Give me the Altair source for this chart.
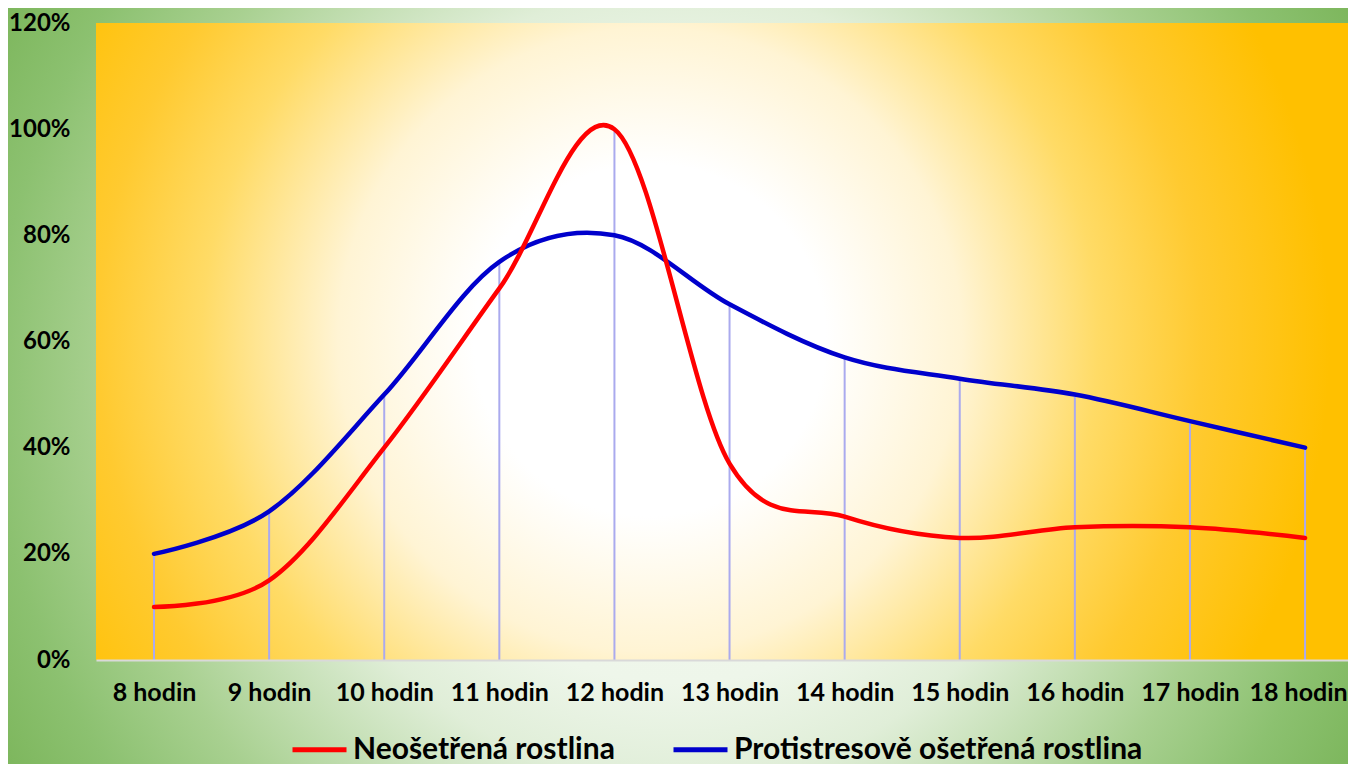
import altair as alt
import pandas as pd

categories = ["8 hodin", "9 hodin", "10 hodin", "11 hodin", "12 hodin", "13 hodin",
              "14 hodin", "15 hodin", "16 hodin", "17 hodin", "18 hodin"]
red_name = "Neošetřená rostlina"
blue_name = "Protistresově ošetřená rostlina"
red_values = [0.10, 0.15, 0.40, 0.70, 1.00, 0.37, 0.27, 0.23, 0.25, 0.25, 0.23]
blue_values = [0.20, 0.28, 0.50, 0.75, 0.80, 0.67, 0.57, 0.53, 0.50, 0.45, 0.40]
y_ticks = [0, 0.2, 0.4, 0.6, 0.8, 1.0, 1.2]

W, H = 1252, 637

rows = []
for i, c in enumerate(categories):
    rows.append({"i": i, "cat": c, "series": red_name, "value": red_values[i]})
    rows.append({"i": i, "cat": c, "series": blue_name, "value": blue_values[i]})
df = pd.DataFrame(rows)

x_scale = alt.Scale(domain=[-0.504, 10.373], nice=False, zero=False)
y_scale = alt.Scale(domain=[0, 1.2], nice=False)
color_scale = alt.Scale(domain=[red_name, blue_name], range=["#ff0000", "#0000cc"])

last = len(categories) - 1
label_expr = "[" + ",".join("'" + c + "'" for c in categories) + "][datum.value]"
x_axis = alt.Axis(values=list(range(len(categories))), labelExpr=label_expr, title=None,
                  grid=False, ticks=False, domain=True, domainColor="#d9d9d9", domainWidth=2,
                  labelPadding=20, labelFontSize=25, labelFontWeight="bold", labelColor="black",
                  labelOffset={"expr": f"datum.value == {last} ? -7 : 0"},
                  labelFlush=False, labelOverlap=False, zindex=1)
y_axis = alt.Axis(values=y_ticks, format=".0%", title=None, grid=False, ticks=False,
                  domain=False, labelPadding=26, labelFontSize=24, labelFontWeight="bold",
                  labelColor="black", labelOverlap=False, zindex=1)

legend = alt.Legend(title=None, orient="none", legendX=194, legendY=697, direction="horizontal",
                    symbolType="stroke", symbolSize=2916, symbolStrokeWidth=5,
                    labelFontSize=30, labelFontWeight="bold", labelColor="black",
                    labelOffset=4, columnPadding=48, labelLimit=1000, zindex=1)

green_grad = {
    "gradient": "radial", "x1": 0.5, "y1": 0.5, "r1": 0, "x2": 0.5, "y2": 0.5, "r2": 0.5,
    "stops": [
        {"offset": 0.0, "color": "#f4f9f0"},
        {"offset": 0.33, "color": "#eef6ea"},
        {"offset": 0.44, "color": "#e0eed8"},
        {"offset": 0.64, "color": "#a8d090"},
        {"offset": 0.76, "color": "#8cc170"},
        {"offset": 0.89, "color": "#78b356"},
        {"offset": 1.0, "color": "#70ad47"},
    ],
}
yellow_grad = {
    "gradient": "radial", "x1": 0.5, "y1": 0.5, "r1": 0, "x2": 0.5, "y2": 0.5, "r2": 0.5,
    "stops": [
        {"offset": 0.0, "color": "#ffffff"},
        {"offset": 0.22, "color": "#ffffff"},
        {"offset": 0.39, "color": "#fff4d4"},
        {"offset": 0.56, "color": "#ffdb66"},
        {"offset": 0.69, "color": "#ffca30"},
        {"offset": 0.85, "color": "#ffc000"},
        {"offset": 1.0, "color": "#ffc000"},
    ],
}

one = alt.Data(values=[{}])
green = alt.Chart(one).mark_rect(fill=green_grad).encode(
    x=alt.value(-318), x2=alt.value(1482), y=alt.value(-537), y2=alt.value(1263))
yellow = alt.Chart(one).mark_rect(fill=yellow_grad, clip=True).encode(
    x=alt.value(-246), x2=alt.value(1354), y=alt.value(-483), y2=alt.value(1117))

rules = alt.Chart(df).transform_aggregate(vmax="max(value)", groupby=["i"]).mark_rule(
    color="#aaaaee", strokeWidth=2).encode(
    x=alt.X("i:Q", scale=x_scale, axis=x_axis),
    y=alt.Y("vmax:Q", scale=y_scale, axis=y_axis),
    y2=alt.datum(0))

def line_layer(name):
    return alt.Chart(df).transform_filter(alt.datum.series == name).mark_line(
        interpolate="cardinal", strokeWidth=4.5, strokeCap="round").encode(
        x=alt.X("i:Q", scale=x_scale, axis=x_axis),
        y=alt.Y("value:Q", scale=y_scale, axis=y_axis),
        color=alt.Color("series:N", scale=color_scale, legend=legend))

chart = alt.layer(green, yellow, rules, line_layer(blue_name), line_layer(red_name)).properties(
    width=W, height=H,
    padding={"left": 88, "top": 15, "right": 0, "bottom": 104},
    autosize=alt.AutoSizeParams(type="none"),
).configure(font="Lato", background="#80b860").configure_view(stroke=None)

chart.save("out.html", embed_options={"renderer": "svg", "actions": False})
